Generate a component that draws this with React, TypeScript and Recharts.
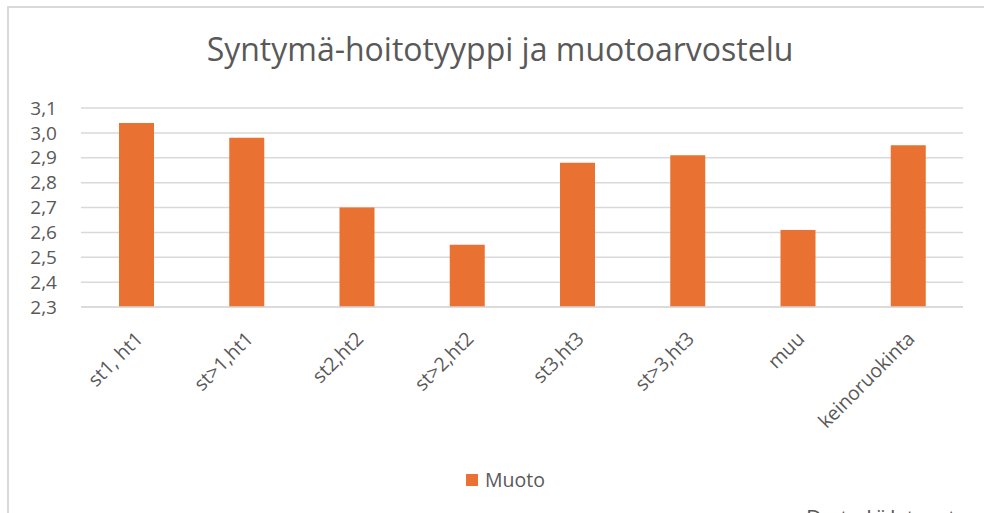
import React from "react";
import { BarChart, Bar, XAxis, YAxis, CartesianGrid, Legend } from "recharts";

const categories = ["st1, ht1", "st>1,ht1", "st2,ht2", "st>2,ht2", "st3,ht3", "st>3,ht3", "muu", "keinoruokinta"];
const muotoValues = [3.04, 2.98, 2.7, 2.55, 2.88, 2.91, 2.61, 2.95];
const yTicks = [2.3, 2.4, 2.5, 2.6, 2.7, 2.8, 2.9, 3.0, 3.1];
const seriesName = "Muoto";
const titleText = "Syntymä-hoitotyyppi ja muotoarvostelu";
const footerText = "Datalähteet";

const data = categories.map((c, i) => ({ name: c, Muoto: muotoValues[i] }));

const FONT = "'Open Sans', 'Liberation Sans', sans-serif";
const TEXT = "#595959";
const ORANGE = "#E97132";
const GRID = "#d9d9d9";

const XTick = (props: any) => {
  const { x, y, payload } = props;
  return (
    <g transform={`translate(${x + 8},${y + 11})`}>
      <text textAnchor="end" transform="rotate(-45)" fill={TEXT} fontSize={19.5} fontFamily={FONT}>
        {payload.value}
      </text>
    </g>
  );
};

const LegendContent = () => (
  <div
    style={{
      display: "flex",
      alignItems: "center",
      height: 26,
      lineHeight: "26px",
      fontFamily: FONT,
      fontSize: 19.5,
      color: TEXT,
    }}
  >
    <span style={{ display: "inline-block", width: 12, height: 12, background: ORANGE, marginRight: 7 }} />
    <span>{seriesName}</span>
  </div>
);

export default function App() {
  return (
    <div style={{ position: "absolute", left: 0, top: 0, width: 984, height: 513, overflow: "hidden", background: "#fff" }}>
      <div style={{ position: "absolute", left: 7, top: 6, width: 1000, height: 2, background: GRID }} />
      <div style={{ position: "absolute", left: 7, top: 6, width: 2, height: 520, background: GRID }} />
      <div
        style={{
          position: "absolute",
          left: 0,
          width: 1000,
          top: 32.6,
          height: 32,
          lineHeight: "32px",
          textAlign: "center",
          fontFamily: FONT,
          fontSize: 32,
          color: TEXT,
          whiteSpace: "nowrap",
        }}
      >
        {titleText}
      </div>
      <div
        style={{
          position: "absolute",
          left: 806,
          top: 502,
          fontFamily: FONT,
          fontSize: 22,
          letterSpacing: 3,
          color: TEXT,
          whiteSpace: "nowrap",
        }}
      >
        {footerText}
      </div>
      <div style={{ position: "absolute", left: 0, top: 0 }}>
        <BarChart width={984} height={513} data={data} margin={{ top: 108, right: 21, left: 0, bottom: 80 }}>
          <CartesianGrid vertical={false} stroke={GRID} strokeWidth={1.5} />
          <XAxis
            dataKey="name"
            axisLine={{ stroke: GRID, strokeWidth: 1.5 }}
            tickLine={false}
            tick={<XTick />}
            interval={0}
            height={100}
            tickSize={0}
            tickMargin={22}
          />
          <YAxis
            domain={[2.3, 3.1]}
            ticks={yTicks}
            width={81}
            axisLine={false}
            tickLine={false}
            tickSize={0}
            tickMargin={24}
            interval={0}
            allowDataOverflow
            tick={{ fill: TEXT, fontSize: 19, fontFamily: FONT }}
            tickFormatter={(v: number) => v.toFixed(1).replace(".", ",")}
          />
          <Legend
            content={<LegendContent />}
            wrapperStyle={{ position: "absolute", left: 466, top: 467, width: "auto" }}
          />
          <Bar dataKey="Muoto" name={seriesName} fill={ORANGE} barSize={35} isAnimationActive={false} />
        </BarChart>
      </div>
    </div>
  );
}
